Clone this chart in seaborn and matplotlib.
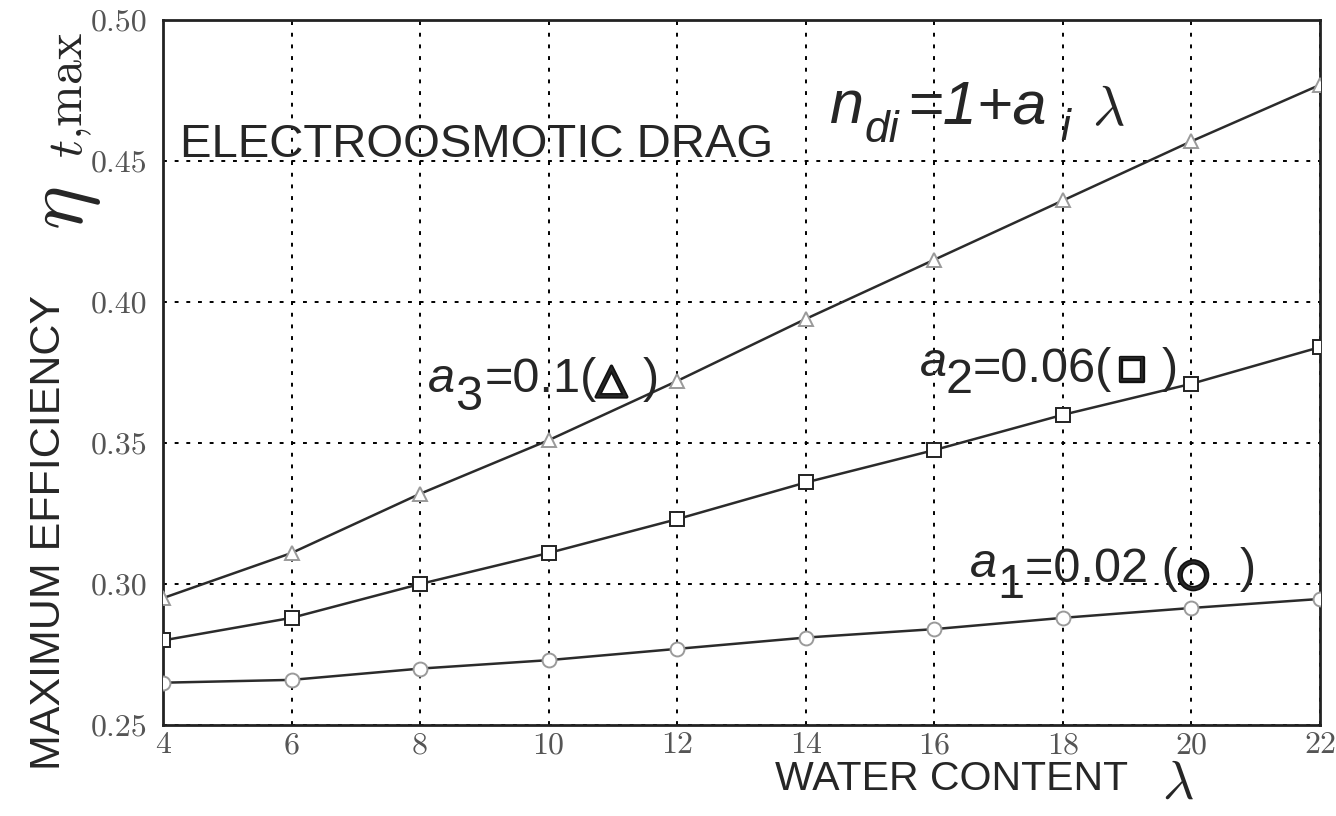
import matplotlib
matplotlib.use("Agg")
import matplotlib.pyplot as plt
import matplotlib.patheffects as pe
import seaborn as sns
import pandas as pd

# Water content values (lambda) at which efficiency was computed
water_content = [4, 6, 8, 10, 12, 14, 16, 18, 20, 22]

# Maximum efficiency for each electroosmotic drag coefficient
eta_a1 = [0.265, 0.266, 0.270, 0.273, 0.277, 0.281, 0.284, 0.288, 0.2915, 0.2947]
eta_a2 = [0.280, 0.288, 0.300, 0.311, 0.323, 0.336, 0.3475, 0.360, 0.371, 0.384]
eta_a3 = [0.295, 0.311, 0.332, 0.351, 0.372, 0.394, 0.415, 0.436, 0.457, 0.477]

x_ticks = [4, 6, 8, 10, 12, 14, 16, 18, 20, 22]
y_ticks = [0.25, 0.30, 0.35, 0.40, 0.45, 0.50]
y_tick_labels = ["0.25", "0.30", "0.35", "0.40", "0.45", "0.50"]

W, H = 1336, 816

sns.set_style("white")
plt.rcParams["font.family"] = ["Liberation Sans", "DejaVu Sans"]

fig = plt.figure(figsize=(W / 100, H / 100), dpi=100)
ax = fig.add_axes([163 / W, 1 - 725 / H, (1320 - 163) / W, (725 - 20) / H])

series = [
    (eta_a3, "^", "#9a9a9a"),
    (eta_a2, "s", "#222222"),
    (eta_a1, "o", "#9a9a9a"),
]
for values, marker, edge in series:
    df = pd.DataFrame({"lam": water_content, "eta": values})
    sns.lineplot(data=df, x="lam", y="eta", ax=ax, color="#2b2b2b", lw=1.8,
                 marker=marker, markersize=10, markerfacecolor="white",
                 markeredgecolor=edge, markeredgewidth=1.4, zorder=3)

ax.set_xlim(4, 22)
ax.set_ylim(0.25, 0.50)
ax.set_xticks(x_ticks)
ax.set_yticks(y_ticks)
ax.set_yticklabels(y_tick_labels)

for lab in ax.get_xticklabels() + ax.get_yticklabels():
    lab.set_family("cmr10")
    lab.set_fontsize(23)
    lab.set_color("#555555")
ax.tick_params(axis="both", direction="in", length=6, width=1.5, color="black")
ax.tick_params(axis="y", pad=11)
ax.tick_params(axis="x", pad=5)

ax.grid(True, color="black", linestyle=(0, (2, 4)), linewidth=1.4)
ax.set_axisbelow(True)
for sp in ax.spines.values():
    sp.set_color("#222222")
    sp.set_linewidth(2)

ax.set_xlabel("")
ax.set_ylabel("")


def put(xp, yp, s, **kw):
    """Place text at a pixel position (from the top-left), baseline-aligned."""
    kw.setdefault("ha", "left")
    kw.setdefault("va", "baseline")
    return fig.text(xp / W, 1 - yp / H, s, **kw)


thick = [pe.withStroke(linewidth=2.4, foreground="#111111")]

# Axis titles
put(775, 790, "WATER CONTENT", fontsize=29.5)
put(1162, 799, r"$\lambda$", fontsize=39, math_fontfamily="cm")
put(49, 770, "MAXIMUM EFFICIENCY", fontsize=31, rotation=90, ha="center", va="bottom")
put(64, 230, r"$\eta$", fontsize=60, rotation=90, math_fontfamily="cm",
    ha="center", va="bottom")
put(71, 158, r"$t{,}\mathrm{max}$", fontsize=36, rotation=90, math_fontfamily="cm",
    ha="center", va="bottom")

# Drag law
put(180, 157, "ELECTROOSMOTIC DRAG", fontsize=34)
put(830, 123, "n", fontsize=44, style="italic")
put(864, 142, "di", fontsize=32, style="italic")
put(907, 123, "=1+a", fontsize=44, style="italic")
put(1060, 140, "i", fontsize=32, style="italic")
put(1092, 125, r"$\lambda$", fontsize=40, math_fontfamily="cm")

# Curve labels
put(428, 392, "a", fontsize=35, style="italic")
put(455, 410, "3", fontsize=35)
put(485, 392, "=0.1(", fontsize=35)
put(596, 392, "△", fontsize=29, family=["DejaVu Sans"], path_effects=thick)
put(643, 392, ")", fontsize=35)

put(920, 376, "a", fontsize=35, style="italic")
put(945, 393, "2", fontsize=35)
put(973, 382, "=0.06(", fontsize=35)
put(1117, 377, "□", fontsize=22, family=["DejaVu Sans"], path_effects=thick)
put(1162, 382, ")", fontsize=35)

put(970, 577, "a", fontsize=35, style="italic")
put(997, 598, "1", fontsize=35)
put(1025, 582, "=0.02 (", fontsize=35)
put(1177, 585, "○", fontsize=27, family=["DejaVu Sans"], path_effects=thick)
put(1240, 582, ")", fontsize=35)

fig.savefig("out.png", dpi=100, facecolor="white")
